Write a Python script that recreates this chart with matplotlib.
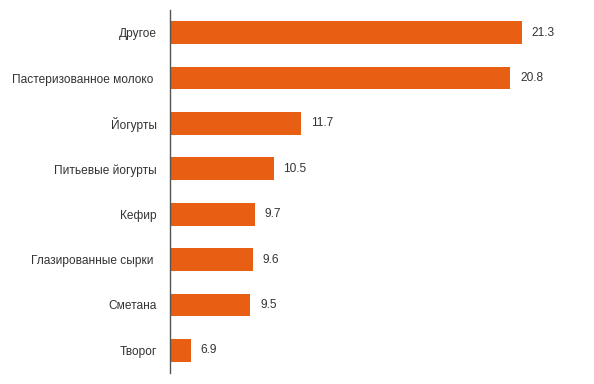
import matplotlib
matplotlib.use("Agg")
import matplotlib.pyplot as plt

categories = ["Другое", "Пастеризованное молоко ", "Йогурты", "Питьевые йогурты",
              "Кефир", "Глазированные сырки ", "Сметана", "Творог"]
values = [21.3, 20.8, 11.7, 10.5, 9.7, 9.6, 9.5, 6.9]

plt.rcParams['font.family'] = ['Liberation Sans', 'DejaVu Sans']
fig = plt.figure(figsize=(5.94, 3.84), dpi=100)
ax = fig.add_axes([170/594, 1-373/384, (584-170)/594, 363/384])
y = list(range(len(categories)))
ax.barh(y, [v - 6 for v in values], left=6, height=0.5, color='#E85E12')
ax.set_ylim(len(categories)-0.5, -0.5)
ax.set_xlim(6, 24)
ax.set_yticks(y)
ax.set_yticklabels(categories, fontsize=8.6, color='#333333')
ax.tick_params(axis='y', length=0, pad=9.5)
ax.set_xticks([])
for s in ['top', 'right', 'bottom']:
    ax.spines[s].set_visible(False)
ax.spines['left'].set_color('#555555')
ax.spines['left'].set_linewidth(1)
for yi, v in zip(y, values):
    ax.text(v + 0.42, yi, f"{v}", va='center', ha='left', fontsize=8.6, color='#333333')
fig.savefig("out.png", dpi=100)
